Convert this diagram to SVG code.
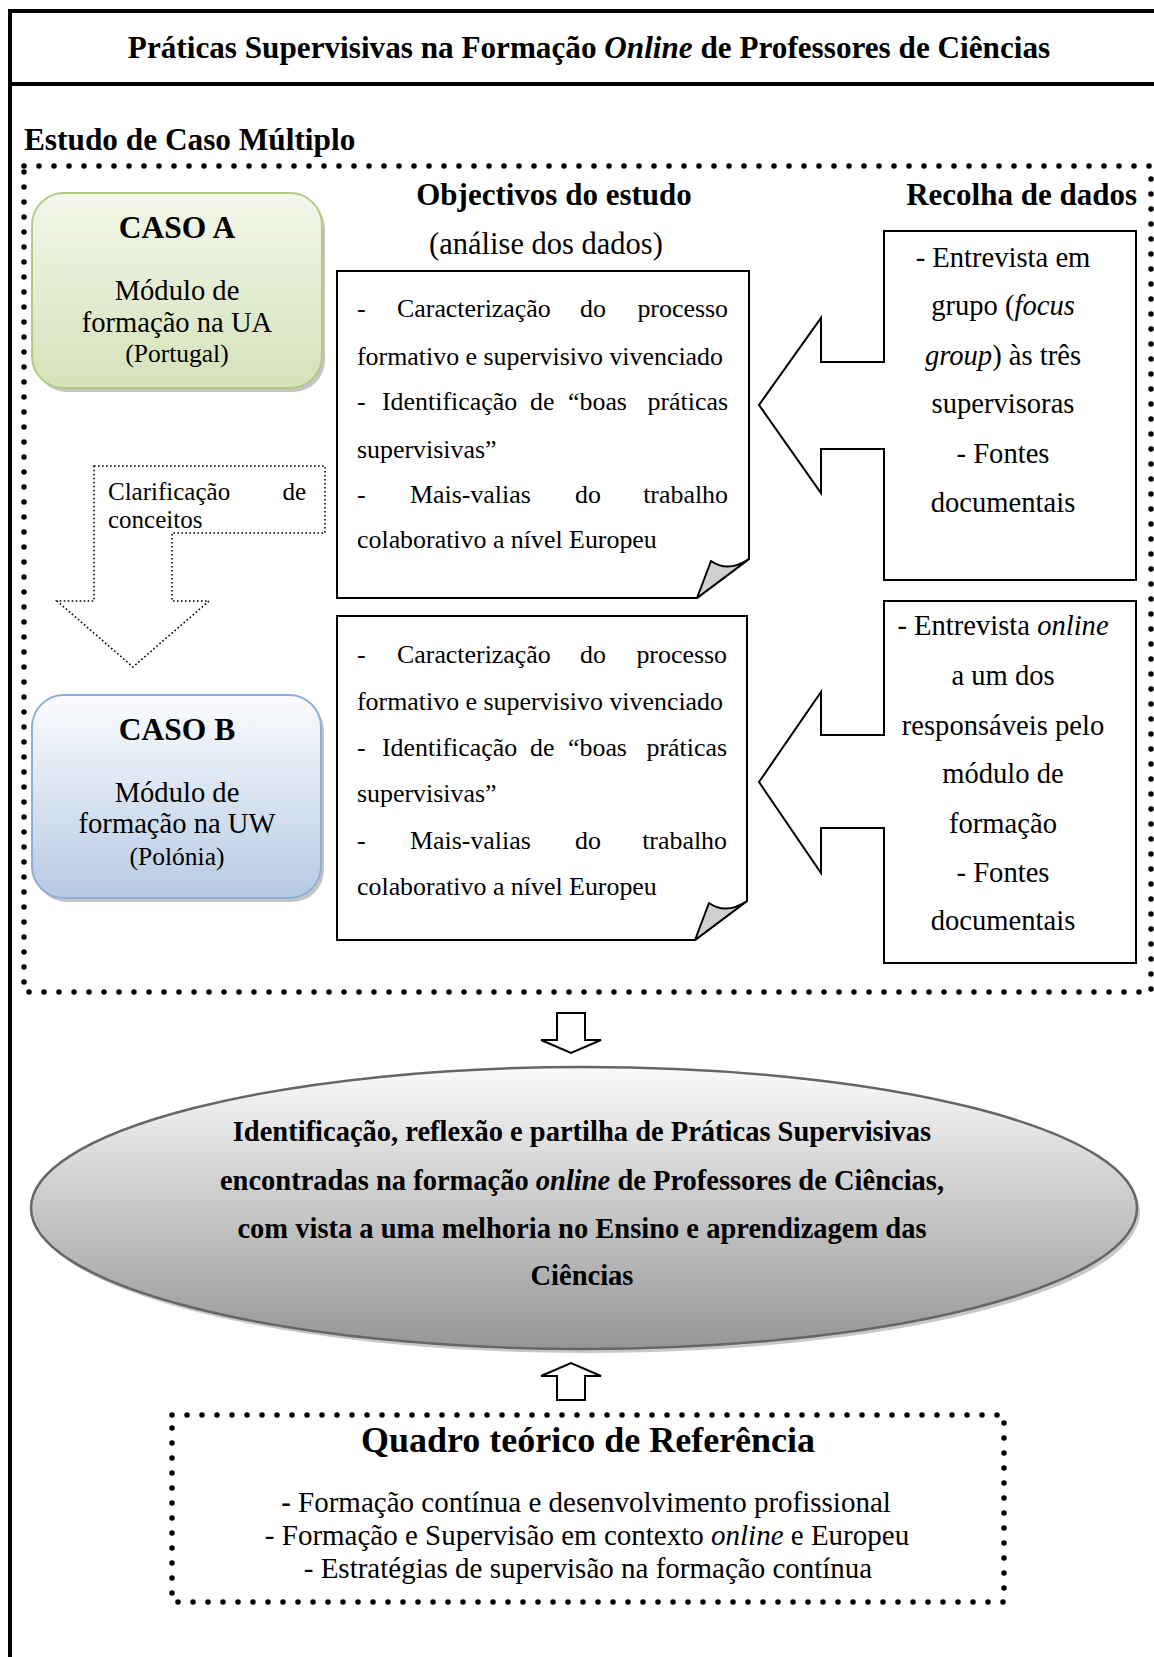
<svg xmlns="http://www.w3.org/2000/svg" width="1154" height="1657" viewBox="0 0 1154 1657">
<defs>
<linearGradient id="gA" x1="0" y1="0" x2="0" y2="1"><stop offset="0" stop-color="#f3f7ea"/><stop offset="1" stop-color="#d5e2ba"/></linearGradient>
<linearGradient id="gB" x1="0" y1="0" x2="0" y2="1"><stop offset="0" stop-color="#fbfcfe"/><stop offset="1" stop-color="#b6cae3"/></linearGradient>
<linearGradient id="gE" x1="0" y1="0" x2="0" y2="1"><stop offset="0" stop-color="#fafafa"/><stop offset="1" stop-color="#969696"/></linearGradient>
<style>
text{font-family:"Liberation Serif","Times New Roman",serif;fill:#000}
.b{font-weight:bold}
.i{font-style:italic}
.frame{stroke:#000;stroke-width:4;fill:none}
.bigdots{fill:none;stroke:#000;stroke-width:5.5;stroke-linecap:round;stroke-dasharray:0 15}
.finedots{fill:none;stroke:#000;stroke-width:1.6;stroke-dasharray:1.6 2.4}
.shape{fill:#fff;stroke:#000;stroke-width:2;stroke-linejoin:miter}
.fold{fill:#d0d0d0;stroke:#000;stroke-width:2;stroke-linejoin:round}
.t26{font-size:25.9px}
.t28{font-size:28.6px}
.hd{font-size:31px;font-weight:bold}
</style>
</defs>
<rect width="1154" height="1657" fill="#fff"/>

<g id="frame">
<line class="frame" x1="10" y1="11" x2="1154" y2="11"/>
<line class="frame" x1="10" y1="9" x2="10" y2="1657"/>
<line class="frame" x1="10" y1="84" x2="1154" y2="84"/>
<text x="589" y="58" text-anchor="middle" class="b" font-size="31.2">Práticas Supervisivas na Formação <tspan class="i">Online</tspan> de Professores de Ciências</text>
</g>

<g id="estudo">
<text x="24" y="150" class="b" font-size="31.3">Estudo de Caso Múltiplo</text>
<rect class="bigdots" x="24" y="166" width="1127" height="826"/>
</g>

<g id="casoA">
<rect x="35" y="197" width="290" height="195" rx="32" fill="#c4c4c4"/>
<rect x="32" y="193" width="290" height="195" rx="32" fill="url(#gA)" stroke="#b3ca86" stroke-width="2"/>
<text x="177" y="238" text-anchor="middle" class="b" font-size="31.5">CASO A</text>
<text x="177" y="300" text-anchor="middle" class="t28">Módulo de</text>
<text x="177" y="332" text-anchor="middle" class="t28">formação na UA</text>
<text x="177" y="362" text-anchor="middle" font-size="25.5">(Portugal)</text>
</g>

<g id="casoB">
<rect x="35" y="699" width="289" height="203" rx="32" fill="#c4c4c4"/>
<rect x="32" y="695" width="289" height="203" rx="32" fill="url(#gB)" stroke="#8eaed6" stroke-width="2"/>
<text x="177" y="740" text-anchor="middle" class="b" font-size="31.5">CASO B</text>
<text x="177" y="802" text-anchor="middle" class="t28">Módulo de</text>
<text x="177" y="833" text-anchor="middle" class="t28">formação na UW</text>
<text x="177" y="865" text-anchor="middle" font-size="25.5">(Polónia)</text>
</g>

<g id="clarificacao">
<path class="finedots" d="M94,466 H325 V533 H172 V601 H209 L133,667 L57,601 H94 Z"/>
<text x="108" y="500" font-size="25">Clarificação</text>
<text x="306" y="500" font-size="25" text-anchor="end">de</text>
<text x="108" y="528" font-size="25">conceitos</text>
</g>

<g id="objectivos-titulo">
<text x="554" y="205" text-anchor="middle" class="hd">Objectivos do estudo</text>
<text x="546" y="254" text-anchor="middle" font-size="30.5">(análise dos dados)</text>
</g>

<g id="objectivos-A">
<path class="shape" d="M337,271 H749 V559 L697,598 H337 Z"/>
<path class="fold" d="M749,559 L697,598 L711,561 Q728,573 749,559 Z"/>
<g class="t26">
<text x="357" y="317">-</text><text x="397" y="317">Caracterização</text><text x="580" y="317">do</text><text x="728" y="317" text-anchor="end">processo</text>
<text x="357" y="365">formativo e supervisivo vivenciado</text>
<text x="357" y="410">-</text><text x="382" y="410">Identificação</text><text x="530" y="410">de</text><text x="568" y="410">“boas</text><text x="728" y="410" text-anchor="end">práticas</text>
<text x="357" y="458">supervisivas”</text>
<text x="357" y="503">-</text><text x="410" y="503">Mais-valias</text><text x="575" y="503">do</text><text x="728" y="503" text-anchor="end">trabalho</text>
<text x="357" y="548">colaborativo a nível Europeu</text>
</g>
</g>

<g id="objectivos-B">
<path class="shape" d="M337,616 H747 V901 L695,940 H337 Z"/>
<path class="fold" d="M747,901 L695,940 L709,903 Q726,915 747,901 Z"/>
<g class="t26">
<text x="357" y="663">-</text><text x="397" y="663">Caracterização</text><text x="580" y="663">do</text><text x="727" y="663" text-anchor="end">processo</text>
<text x="357" y="710">formativo e supervisivo vivenciado</text>
<text x="357" y="756">-</text><text x="382" y="756">Identificação</text><text x="530" y="756">de</text><text x="568" y="756">“boas</text><text x="727" y="756" text-anchor="end">práticas</text>
<text x="357" y="802">supervisivas”</text>
<text x="357" y="849">-</text><text x="410" y="849">Mais-valias</text><text x="575" y="849">do</text><text x="727" y="849" text-anchor="end">trabalho</text>
<text x="357" y="895">colaborativo a nível Europeu</text>
</g>
</g>

<g id="recolha-titulo">
<text x="1137" y="205" text-anchor="end" class="hd">Recolha de dados</text>
</g>

<g id="recolha-A">
<polygon class="shape" points="884,231 1136,231 1136,580 884,580 884,449 821,449 821,493 759,405 821,318 821,362 884,362"/>
<g class="t28" text-anchor="middle">
<text x="1003" y="267">- Entrevista em</text>
<text x="1003" y="315">grupo (<tspan class="i">focus</tspan></text>
<text x="1003" y="365"><tspan class="i">group</tspan>) às três</text>
<text x="1003" y="413">supervisoras</text>
<text x="1003" y="463">- Fontes</text>
<text x="1003" y="512">documentais</text>
</g>
</g>

<g id="recolha-B">
<polygon class="shape" points="884,601 1136,601 1136,963 884,963 884,828 821,828 821,873 759,782 821,692 821,735 884,735"/>
<g class="t28" text-anchor="middle">
<text x="1003" y="635">- Entrevista <tspan class="i">online</tspan></text>
<text x="1003" y="685">a um dos</text>
<text x="1003" y="735">responsáveis pelo</text>
<text x="1003" y="783">módulo de</text>
<text x="1003" y="833">formação</text>
<text x="1003" y="882">- Fontes</text>
<text x="1003" y="930">documentais</text>
</g>
</g>

<g id="conectores">
<polygon class="shape" points="557,1013 585,1013 585,1040 601,1040 571,1053 541,1040 557,1040"/>
<polygon class="shape" points="557,1400 585,1400 585,1376 601,1376 571,1363 541,1376 557,1376"/>
</g>

<g id="sintese">
<ellipse cx="587" cy="1212" rx="553" ry="141" fill="#c8c8c8"/>
<ellipse cx="584" cy="1208" rx="553" ry="141" fill="url(#gE)" stroke="#666" stroke-width="2.5"/>
<g class="b" font-size="28.5" text-anchor="middle">
<text x="582" y="1141">Identificação, reflexão e partilha de Práticas Supervisivas</text>
<text x="582" y="1190">encontradas na formação <tspan class="i">online</tspan> de Professores de Ciências,</text>
<text x="582" y="1238">com vista a uma melhoria no Ensino e aprendizagem das</text>
<text x="582" y="1285">Ciências</text>
</g>
</g>

<g id="quadro">
<rect class="bigdots" x="172" y="1415" width="832" height="187"/>
<text x="588" y="1452" text-anchor="middle" class="b" font-size="36">Quadro teórico de Referência</text>
<g font-size="29" text-anchor="middle">
<text x="586" y="1512"><tspan class="b">-</tspan> Formação contínua e desenvolvimento profissional</text>
<text x="587" y="1545">- Formação e Supervisão em contexto <tspan class="i">online</tspan> e Europeu</text>
<text x="588" y="1578">- Estratégias de supervisão na formação contínua</text>
</g>
</g>
</svg>
